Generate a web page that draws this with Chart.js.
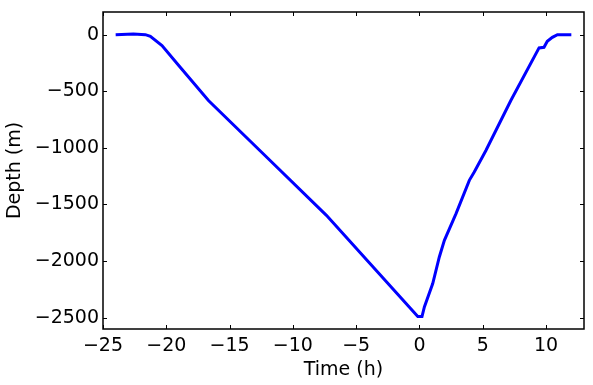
<!DOCTYPE html>
<html>
<head>
<meta charset="utf-8">
<script src="https://cdn.jsdelivr.net/npm/chart.js@4.4.1/dist/chart.umd.min.js"></script>
<style>
  html, body { margin: 0; padding: 0; background: #fff; }
  #wrap { width: 593px; height: 385px; }
</style>
</head>
<body>
<div id="wrap"><canvas id="c" width="593" height="385"></canvas></div>
<script>
// dive profile
const timeH  = [-24.0, -22.6, -21.65, -21.26, -20.34, -18.9, -16.67, -12.0, -7.35, -0.13, 0.2, 0.39, 1.05, 1.57, 1.97, 2.89, 3.94, 4.33, 5.25, 7.22, 9.45, 9.84, 10.1, 10.5, 10.9, 12.0];
const depthM = [0, 5, 0, -15, -97, -288, -582, -1090, -1596, -2490, -2490, -2405, -2198, -1964, -1817, -1581, -1287, -1214, -1023, -582, -117, -112, -59, -24, 0, 0];

const xTicks = [-25, -20, -15, -10, -5, 0, 5, 10];
const yTicks = [-2500, -2000, -1500, -1000, -500, 0];

const FONT = 'DejaVu Sans';
const minus = v => String(v).replace('-', '\u2212');

// matplotlib-ish frame with inward ticks on all four sides
const frame = {
    id: 'frame',
    afterDraw(chart) {
        let ctx = chart.ctx;
        let a = chart.chartArea;
        let xs = chart.scales.x, ys = chart.scales.y;
        let len = 4;
        ctx.save();
        ctx.strokeStyle = '#000';
        ctx.lineWidth = 1;
        ctx.beginPath();
        xTicks.forEach(v => {
            let px = Math.round(xs.getPixelForValue(v)) + 0.5;
            ctx.moveTo(px, a.bottom); ctx.lineTo(px, a.bottom - len);
            ctx.moveTo(px, a.top); ctx.lineTo(px, a.top + len);
        });
        yTicks.forEach(v => {
            let py = Math.round(ys.getPixelForValue(v)) + 0.5;
            ctx.moveTo(a.left, py); ctx.lineTo(a.left + len, py);
            ctx.moveTo(a.right, py); ctx.lineTo(a.right - len, py);
        });
        ctx.stroke();
        ctx.lineWidth = 1.5;
        ctx.strokeRect(a.left, a.top, a.right - a.left, a.bottom - a.top);
        ctx.restore();
    }
};

new Chart(document.getElementById('c'), {
    type: 'line',
    data: {
        datasets: [{
            data: timeH.map((t, i) => ({ x: t, y: depthM[i] })),
            borderColor: '#0000ff',
            borderWidth: 3,
            pointRadius: 0,
            tension: 0,
            fill: false
        }]
    },
    options: {
        responsive: false,
        animation: false,
        events: [],
        layout: { padding: { left: 0, right: 9, top: 12, bottom: 0 } },
        plugins: { legend: { display: false }, tooltip: { enabled: false } },
        scales: {
            x: {
                type: 'linear',
                min: -25, max: 13,
                afterBuildTicks: s => { s.ticks = xTicks.map(v => ({ value: v })); },
                afterFit: s => { s.height = 56; s.paddingLeft = 0; s.paddingRight = 0; },
                grid: { display: false, drawTicks: false },
                border: { display: false },
                ticks: { color: '#000', font: { family: FONT, size: 19 }, padding: 6, maxRotation: 0, callback: v => minus(v) },
                title: { display: true, text: 'Time (h)', color: '#000', font: { family: FONT, size: 19 }, padding: { top: 2, bottom: 4 } }
            },
            y: {
                type: 'linear',
                min: -2600, max: 200,
                afterBuildTicks: s => { s.ticks = yTicks.map(v => ({ value: v })); },
                afterFit: s => { s.width = 103; s.paddingTop = 0; s.paddingBottom = 0; },
                grid: { display: false, drawTicks: false },
                border: { display: false },
                ticks: { color: '#000', font: { family: FONT, size: 19 }, padding: 4, callback: v => minus(v) },
                title: { display: true, text: 'Depth (m)', color: '#000', font: { family: FONT, size: 19 }, padding: { top: 4, bottom: 2 } }
            }
        }
    },
    plugins: [frame]
});
</script>
</body>
</html>
